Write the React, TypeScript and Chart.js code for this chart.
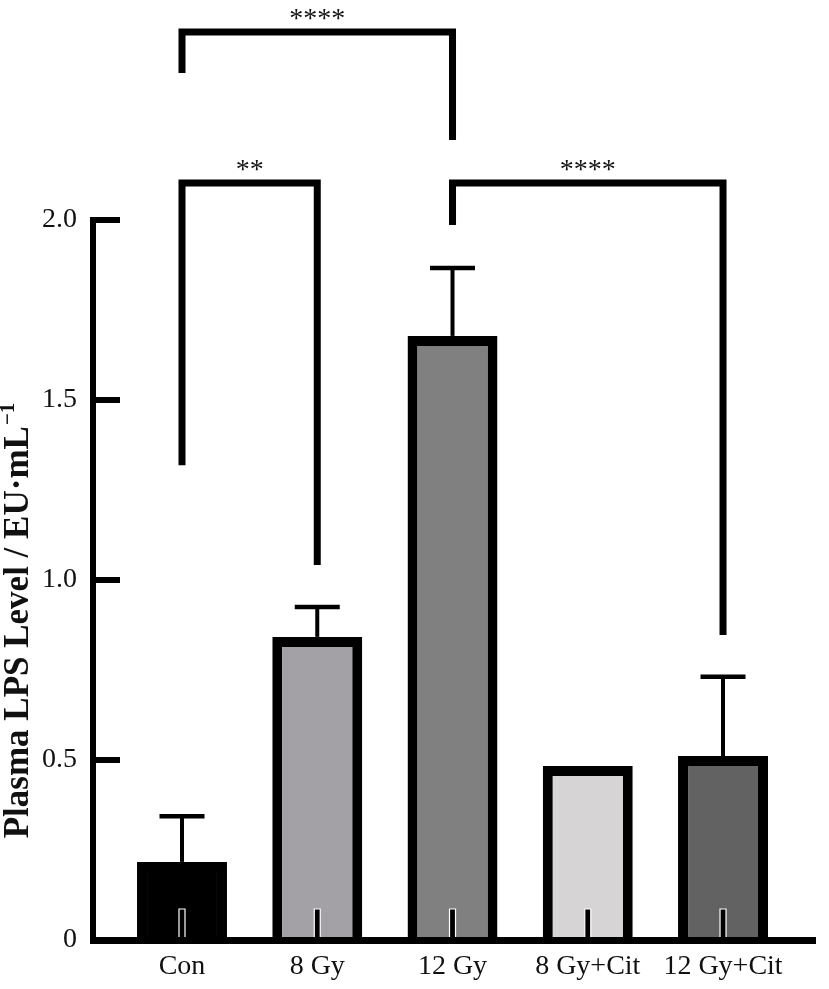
import React, { useEffect, useRef } from "react";
import { Chart, registerables } from "chart.js";

Chart.register(...registerables);

// ---- data ----
const categories = ["Con", "8 Gy", "12 Gy", "8 Gy+Cit", "12 Gy+Cit"];
const means = [0.217, 0.842, 1.678, 0.483, 0.511];
const errors: (number | null)[] = [0.127, 0.083, 0.189, null, 0.22];
const barColors = ["#000000", "#a3a1a6", "#808080", "#d6d4d4", "#626262"];
const yTickValues = [0, 0.5, 1.0, 1.5, 2.0];

// significance brackets (category indices and value levels)
const bracketFrom = [0, 0, 2];
const bracketTo = [2, 1, 4];
const bracketLevels = [2.522, 2.103, 2.103];
const bracketFromEnds = [2.408, 1.319, 1.986];
const bracketToEnds = [2.222, 1.042, 0.847];
const bracketLabels = ["****", "**", "****"];

const yTitleMain = "Plasma LPS Level / EU·mL";
const yTitleSup = "−1";

const SERIF = "'Liberation Serif', 'Times New Roman', serif";

const overlayPlugin = {
  id: "overlay",
  afterDatasetsDraw(chart: any) {
    const ctx = chart.ctx;
    const ys = chart.scales.y;
    const meta = chart.getDatasetMeta(0);
    const y0 = ys.getPixelForValue(0);
    ctx.save();
    meta.data.forEach((bar: any, i: number) => {
      const bx = bar.x;
      // error bars
      const e = errors[i];
      if (e != null) {
        const top = ys.getPixelForValue(means[i] + e);
        ctx.strokeStyle = "#000";
        ctx.lineWidth = 4;
        ctx.lineCap = "butt";
        ctx.beginPath();
        ctx.moveTo(bx, bar.y);
        ctx.lineTo(bx, top);
        ctx.stroke();
        ctx.lineWidth = 4.5;
        ctx.beginPath();
        ctx.moveTo(bx - 22.5, top);
        ctx.lineTo(bx + 22.5, top);
        ctx.stroke();
      }
      // lower stub
      ctx.fillStyle = "#000";
      ctx.strokeStyle = "#ffffff";
      ctx.lineWidth = 1.2;
      ctx.beginPath();
      ctx.rect(bx - 3, y0 - 31, 6, 31);
      ctx.fill();
      ctx.stroke();
    });
    ctx.restore();
  },
  afterDraw(chart: any) {
    const ctx = chart.ctx;
    const xs = chart.scales.x;
    const ys = chart.scales.y;
    const area = chart.chartArea;
    ctx.save();
    // inward y ticks
    ctx.strokeStyle = "#000";
    ctx.lineWidth = 6;
    ctx.lineCap = "butt";
    yTickValues.forEach((v) => {
      const py = ys.getPixelForValue(v);
      ctx.beginPath();
      ctx.moveTo(area.left, py);
      ctx.lineTo(area.left + 27, py);
      ctx.stroke();
    });
    // brackets
    ctx.lineWidth = 7;
    ctx.lineJoin = "miter";
    bracketLabels.forEach((lab, k) => {
      const xa = xs.getPixelForValue(bracketFrom[k]);
      const xb = xs.getPixelForValue(bracketTo[k]);
      const yl = ys.getPixelForValue(bracketLevels[k]);
      ctx.beginPath();
      ctx.moveTo(xa, ys.getPixelForValue(bracketFromEnds[k]));
      ctx.lineTo(xa, yl);
      ctx.lineTo(xb, yl);
      ctx.lineTo(xb, ys.getPixelForValue(bracketToEnds[k]));
      ctx.stroke();
      ctx.fillStyle = "#111";
      ctx.font = `28px ${SERIF}`;
      ctx.textAlign = "center";
      ctx.textBaseline = "alphabetic";
      ctx.fillText(lab, (xa + xb) / 2, yl - 5);
    });
    // y title
    ctx.translate(28, 621);
    ctx.rotate(-Math.PI / 2);
    ctx.fillStyle = "#111";
    ctx.textBaseline = "alphabetic";
    ctx.textAlign = "left";
    ctx.font = `bold 35px ${SERIF}`;
    const wMain = ctx.measureText(yTitleMain).width;
    ctx.font = `bold 21px ${SERIF}`;
    const wSup = ctx.measureText(yTitleSup).width;
    const start = -(wMain + wSup) / 2;
    ctx.font = `bold 35px ${SERIF}`;
    ctx.fillText(yTitleMain, start, 0);
    ctx.font = `bold 21px ${SERIF}`;
    ctx.fillText(yTitleSup, start + wMain + 1, -14);
    ctx.restore();
  },
};

export default function App() {
  const ref = useRef<HTMLCanvasElement | null>(null);
  useEffect(() => {
    if (!ref.current) return;
    const chart = new Chart(ref.current, {
      type: "bar",
      data: {
        datasets: [
          {
            data: categories.map((_, i) => ({ x: i, y: means[i] })),
            backgroundColor: barColors,
            borderColor: "#000",
            borderWidth: 10,
            borderSkipped: "start",
            barPercentage: 1,
            categoryPercentage: 0.665,
          } as any,
        ],
      },
      options: {
        animation: false,
        responsive: true,
        maintainAspectRatio: false,
        layout: { padding: { top: 220, right: 14, bottom: 0, left: 0 } },
        plugins: { legend: { display: false }, tooltip: { enabled: false } },
        scales: {
          x: {
            type: "linear",
            min: -0.658,
            max: 4.68,
            offset: false,
            bounds: "data",
            grid: { display: false, drawTicks: false, offset: false },
            border: { display: true, color: "#000", width: 7, z: 1 },
            afterBuildTicks: (s: any) => {
              s.ticks = categories.map((_, i) => ({ value: i }));
            },
            afterFit: (s: any) => {
              s.height = 49;
            },
            ticks: {
              callback: (v: any) => categories[v as number] ?? "",
              font: { family: SERIF, size: 28 },
              color: "#111",
              padding: 10,
              maxRotation: 0,
              autoSkip: false,
            },
          },
          y: {
            min: 0,
            max: 2,
            grid: { display: false, drawTicks: false },
            border: { display: true, color: "#000", width: 6, z: 1 },
            afterBuildTicks: (s: any) => {
              s.ticks = yTickValues.map((v) => ({ value: v }));
            },
            afterFit: (s: any) => {
              s.width = 93;
            },
            ticks: {
              callback: (v: any) => (v === 0 ? "0" : Number(v).toFixed(1)),
              font: { family: SERIF, size: 28 },
              color: "#111",
              padding: 16,
            },
          },
        },
      } as any,
      plugins: [overlayPlugin],
    });
    return () => chart.destroy();
  }, []);
  return (
    <div style={{ position: "fixed", left: 0, top: 0, width: 829, height: 989, background: "#fff" }}>
      <canvas ref={ref} />
    </div>
  );
}
